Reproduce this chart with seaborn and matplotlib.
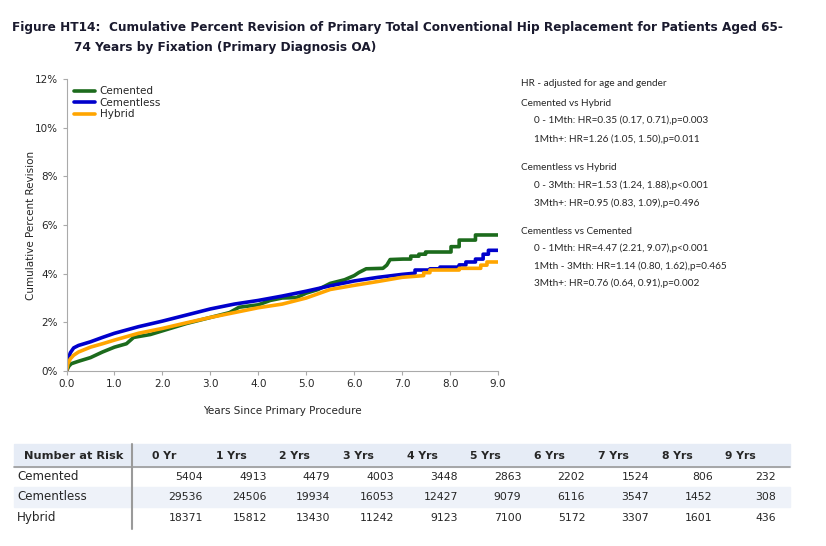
import numpy as np
import pandas as pd
import matplotlib
matplotlib.use("Agg")
import matplotlib.pyplot as plt
import seaborn as sns

# cumulative percent revision curves (years, %)
cemented_t = [0, 0.05, 0.1, 0.25, 0.5, 0.75, 1.0, 1.25, 1.4, 1.75, 2.0, 2.5, 3.0, 3.4, 3.6,
              4.0, 4.25, 4.5, 4.8, 5.0, 5.25, 5.5, 5.8, 6.0, 6.1, 6.25, 6.6, 6.68, 6.75,
              7.02, 7.02, 7.18, 7.18, 7.35, 7.35, 7.49, 7.49, 8.02, 8.02, 8.19, 8.19,
              8.53, 8.53, 9.0]
cemented_v = [0, 0.2, 0.3, 0.4, 0.55, 0.78, 0.98, 1.12, 1.38, 1.5, 1.65, 1.95, 2.2, 2.4, 2.62,
              2.72, 2.9, 3.0, 3.02, 3.2, 3.35, 3.6, 3.75, 3.92, 4.05, 4.2, 4.22, 4.35, 4.58,
              4.6, 4.6, 4.6, 4.72, 4.72, 4.8, 4.8, 4.89, 4.89, 5.11, 5.11, 5.38,
              5.38, 5.59, 5.59]

cementless_t = [0, 0.03, 0.08, 0.15, 0.25, 0.5, 0.75, 1.0, 1.5, 2.0, 2.5, 3.0, 3.5, 4.0,
                4.5, 5.0, 5.5, 6.0, 6.5, 7.0, 7.27, 7.27, 7.58, 7.58, 7.79, 7.79, 8.19, 8.19,
                8.33, 8.33, 8.53, 8.53, 8.69, 8.69, 8.8, 8.8, 9.0]
cementless_v = [0, 0.45, 0.75, 0.95, 1.05, 1.2, 1.38, 1.55, 1.82, 2.05, 2.3, 2.55, 2.75, 2.9,
                3.08, 3.28, 3.5, 3.7, 3.85, 3.97, 4.02, 4.15, 4.15, 4.2, 4.2, 4.27, 4.27, 4.36,
                4.36, 4.48, 4.48, 4.6, 4.6, 4.8, 4.8, 4.96, 4.96]

hybrid_t = [0, 0.03, 0.08, 0.15, 0.25, 0.5, 0.75, 1.0, 1.5, 2.0, 2.5, 3.0, 3.5, 4.0, 4.5,
            5.0, 5.5, 6.0, 6.5, 7.0, 7.45, 7.45, 7.58, 7.58, 8.19, 8.19, 8.64, 8.64,
            8.77, 8.77, 9.0]
hybrid_v = [0, 0.3, 0.5, 0.65, 0.78, 0.98, 1.12, 1.27, 1.55, 1.75, 1.98, 2.2, 2.4, 2.6, 2.75,
            3.0, 3.35, 3.52, 3.68, 3.85, 3.92, 4.04, 4.04, 4.15, 4.15, 4.22, 4.22, 4.35,
            4.35, 4.48, 4.48]

series_names = ["Cemented", "Cementless", "Hybrid"]
series_colors = ["#1c6b1c", "#0000cc", "#ffa500"]

# number at risk table
risk_years = ["0 Yr", "1 Yrs", "2 Yrs", "3 Yrs", "4 Yrs", "5 Yrs", "6 Yrs", "7 Yrs", "8 Yrs", "9 Yrs"]
risk_cemented = [5404, 4913, 4479, 4003, 3448, 2863, 2202, 1524, 806, 232]
risk_cementless = [29536, 24506, 19934, 16053, 12427, 9079, 6116, 3547, 1452, 308]
risk_hybrid = [18371, 15812, 13430, 11242, 9123, 7100, 5172, 3307, 1601, 436]

hr_lines = [
    ("HR - adjusted for age and gender", 0),
    ("Cemented vs Hybrid", 0),
    ("0 - 1Mth: HR=0.35 (0.17, 0.71),p=0.003", 1),
    ("1Mth+: HR=1.26 (1.05, 1.50),p=0.011", 1),
    ("Cementless vs Hybrid", 0),
    ("0 - 3Mth: HR=1.53 (1.24, 1.88),p<0.001", 1),
    ("3Mth+: HR=0.95 (0.83, 1.09),p=0.496", 1),
    ("Cementless vs Cemented", 0),
    ("0 - 1Mth: HR=4.47 (2.21, 9.07),p<0.001", 1),
    ("1Mth - 3Mth: HR=1.14 (0.80, 1.62),p=0.465", 1),
    ("3Mth+: HR=0.76 (0.64, 0.91),p=0.002", 1),
]
hr_y = [83, 103, 120, 139, 168, 185, 203, 231, 248, 266, 283]

sns.set_style("white")
plt.rcParams['font.family'] = ['DejaVu Sans']

W, H = 826, 546
fig = plt.figure(figsize=(W / 100, H / 100), dpi=100)

def fx(x):
    return x / W

def fy(y):
    return 1 - y / H

ax = fig.add_axes([fx(66.5), fy(371), fx(498) - fx(66.5), fy(79) - fy(371)])

df = pd.concat([
    pd.DataFrame({"t": cemented_t, "v": cemented_v, "s": "Cemented"}),
    pd.DataFrame({"t": cementless_t, "v": cementless_v, "s": "Cementless"}),
    pd.DataFrame({"t": hybrid_t, "v": hybrid_v, "s": "Hybrid"}),
])
for name, col in zip(series_names, series_colors):
    sub = df[df["s"] == name]
    sns.lineplot(x=sub["t"], y=sub["v"], estimator=None, sort=False, color=col,
                 lw=2.6, ax=ax, label=name)

ax.set_xlim(0, 9)
ax.set_ylim(0, 12)
ax.set_xticks(np.arange(0, 10, 1))
ax.set_xticklabels([f"{v:.1f}" for v in range(10)], fontsize=7.5)
ax.set_yticks(np.arange(0, 13, 2))
ax.set_yticklabels([f"{v}%" for v in range(0, 13, 2)], fontsize=7.5)
ax.tick_params(axis='both', length=3, width=0.8, color="#aaaaaa", direction="out",
               bottom=True, left=True, pad=3)
for side in ["top", "right"]:
    ax.spines[side].set_visible(False)
for side in ["left", "bottom"]:
    ax.spines[side].set_color("#aaaaaa")
    ax.spines[side].set_linewidth(0.8)
ax.set_xlabel("Years Since Primary Procedure", fontsize=7.5, labelpad=12)
ax.set_ylabel("Cumulative Percent Revision", fontsize=7.5, labelpad=-1)

leg = ax.legend(loc="upper left", bbox_to_anchor=(0.0, 1.0), frameon=False, fontsize=7.5,
                handlelength=2.0, handletextpad=0.5, labelspacing=0.15, borderaxespad=0.3)

# title
fig.text(fx(12), fy(28), "Figure HT14:  Cumulative Percent Revision of Primary Total Conventional Hip Replacement for Patients Aged 65-",
         fontsize=8.7, fontweight="bold", color="#1a1a2e", va="center", ha="left")
fig.text(fx(74), fy(48), "74 Years by Fixation (Primary Diagnosis OA)",
         fontsize=8.7, fontweight="bold", color="#1a1a2e", va="center", ha="left")

# hazard ratio notes
for (txt, indent), y in zip(hr_lines, hr_y):
    fig.text(fx(521 + 13 * indent), fy(y), txt, fontsize=7.2, va="center", ha="left",
             family=['Lato', 'DejaVu Sans'])

# number at risk table
fig.patches.append(plt.Rectangle((fx(14), fy(467)), fx(790) - fx(14), fy(444) - fy(467),
                                 transform=fig.transFigure, color="#e6ecf6", zorder=0))
fig.patches.append(plt.Rectangle((fx(14), fy(507)), fx(790) - fx(14), fy(487) - fy(507),
                                 transform=fig.transFigure, color="#eef2f9", zorder=0))
fig.add_artist(plt.Line2D([fx(14), fx(790)], [fy(467), fy(467)], transform=fig.transFigure,
                          color="#9a9a9a", lw=1.2))
fig.add_artist(plt.Line2D([fx(132), fx(132)], [fy(444), fy(529)], transform=fig.transFigure,
                          color="#9a9a9a", lw=1.5))
fig.text(fx(24), fy(456), "Number at Risk", fontsize=8.2, fontweight="bold", va="center",
         ha="left")
col_right = [203 + 63.7 * i for i in range(10)]
for lab, xr in zip(risk_years, col_right):
    fig.text(fx(xr - 51), fy(456), lab, fontsize=7.8, fontweight="bold", va="center",
             ha="left")
for name, vals, y in zip(series_names, [risk_cemented, risk_cementless, risk_hybrid],
                         [477, 497, 518]):
    fig.text(fx(17), fy(y), name, fontsize=8.6, va="center", ha="left")
    for v, xr in zip(vals, col_right):
        fig.text(fx(xr), fy(y), str(v), fontsize=7.8, va="center", ha="right")

fig.savefig("out.png", dpi=100)
